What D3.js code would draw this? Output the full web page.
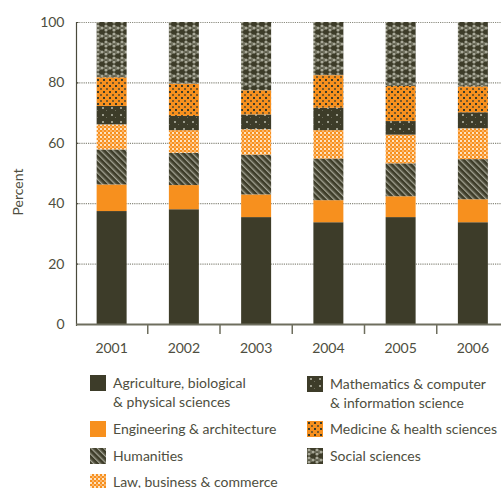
<!DOCTYPE html>
<html><head><meta charset="utf-8">
<script src="https://cdn.jsdelivr.net/npm/d3@7"></script>
<style>
html,body{margin:0;padding:0;background:#fff;}
svg text{font-family:Lato,"Open Sans",sans-serif;fill:#4e4e40;}
</style></head>
<body><svg id="c" width="501" height="488"></svg>
<script>
const years = ["2001","2002","2003","2004","2005","2006"];
const categories = [
  "Agriculture, biological & physical sciences",
  "Engineering & architecture",
  "Humanities",
  "Law, business & commerce",
  "Mathematics & computer & information science",
  "Medicine & health sciences",
  "Social sciences"
];
const agriculture = [37.4, 38.0, 35.4, 33.7, 35.4, 33.7];
const engineering = [8.8, 8.0, 7.5, 7.3, 6.9, 7.6];
const humanities  = [11.6, 10.7, 13.2, 13.8, 10.9, 13.3];
const law         = [8.3, 7.5, 8.4, 9.4, 9.5, 10.2];
const mathematics = [6.1, 4.7, 4.9, 7.4, 4.5, 5.3];
const medicine    = [9.5, 10.7, 8.0, 10.8, 11.6, 8.6];
const social      = [18.3, 20.4, 22.6, 17.6, 21.2, 21.3];
const yTicks = [0, 20, 40, 60, 80, 100];

const series = [agriculture, engineering, humanities, law, mathematics, medicine, social];
const keys = ["agri","eng","hum","law","math","med","soc"];
const rows = years.map((y,i)=>{const r={year:y}; keys.forEach((k,j)=>r[k]=series[j][i]); return r;});

const svg = d3.select("#c");
const DARK="#3d3c29", ORANGE="#f7901e";

// patterns
const defs = svg.append("defs");
function pat(id,w,h){return defs.append("pattern").attr("id",id).attr("patternUnits","userSpaceOnUse").attr("width",w).attr("height",h);}
// humanities: diagonal stripes (\\)
let p = pat("p-hum",4.5,4.5).attr("patternTransform","rotate(-45)");
p.append("rect").attr("width",4.5).attr("height",4.5).attr("fill",DARK);
p.append("rect").attr("x",0).attr("y",0).attr("width",1.3).attr("height",4.5).attr("fill","#a4a494");
p.append("rect").attr("x",1.3).attr("y",0).attr("width",0.8).attr("height",4.5).attr("fill","#6e6d5c");
// law: checker light on orange
p = pat("p-law",4,4);
p.append("rect").attr("width",4).attr("height",4).attr("fill",ORANGE);
p.append("rect").attr("x",0).attr("y",0).attr("width",2).attr("height",2).attr("fill","#fde3c2");
p.append("rect").attr("x",2).attr("y",2).attr("width",2).attr("height",2).attr("fill","#fbb56a");
// math: dark with light specks
p = pat("p-math",9,7);
p.append("rect").attr("width",9).attr("height",7).attr("fill",DARK);
p.append("rect").attr("x",3).attr("y",2).attr("width",2).attr("height",2).attr("fill","#9c9c8c");
p.append("rect").attr("x",7).attr("y",5).attr("width",1).attr("height",1).attr("fill","#6e6d5c");
// medicine: orange with dark squares
p = pat("p-med",6,6);
p.append("rect").attr("width",6).attr("height",6).attr("fill",ORANGE);
p.append("rect").attr("x",1).attr("y",1).attr("width",2).attr("height",2).attr("fill",DARK);
p.append("rect").attr("x",4).attr("y",4).attr("width",2).attr("height",2).attr("fill","#7a5a2a");
// social: dark with light blobs in zigzag
p = pat("p-soc",8,8);
p.append("rect").attr("width",8).attr("height",8).attr("fill",DARK);
[[2,2],[6,4],[2,6]].forEach(([cx,cy])=>p.append("circle").attr("cx",cx).attr("cy",cy).attr("r",1.6).attr("fill","#a9a999"));
[[4,3],[4,5],[0,4],[8,4]].forEach(([cx,cy])=>p.append("circle").attr("cx",cx).attr("cy",cy).attr("r",1.0).attr("fill","#7b7b6a"));

const fills = {agri:DARK, eng:ORANGE, hum:"url(#p-hum)", law:"url(#p-law)", math:"url(#p-math)", med:"url(#p-med)", soc:"url(#p-soc)"};

const x = d3.scaleBand().domain(years).range([75.5,509]).paddingInner(0.585).paddingOuter(0.2925);
const y = d3.scaleLinear().domain([0,100]).range([324,22]);

// gridlines
svg.append("g").selectAll("line").data(yTicks.filter(t=>t>0)).join("line")
  .attr("x1",77).attr("x2",501).attr("y1",d=>y(d)+0.5).attr("y2",d=>y(d)+0.5)
  .attr("stroke","#8c8c80").attr("stroke-width",1.2).attr("stroke-dasharray","1.2,1");

// bars
const stack = d3.stack().keys(keys)(rows);
svg.append("g").selectAll("g").data(stack).join("g").attr("fill",d=>fills[d.key])
  .selectAll("rect").data(d=>d).join("rect")
  .attr("x",d=>x(d.data.year)).attr("width",x.bandwidth())
  .attr("y",d=>y(d[1])).attr("height",d=>y(d[0])-y(d[1]));

// y axis
const ya = svg.append("g").attr("transform","translate(76.5,0)")
  .call(d3.axisLeft(y).tickValues(yTicks).tickSize(-2).tickPadding(12));
ya.select(".domain").attr("stroke","#4a4a3c").attr("stroke-width",1.2).attr("d","M0,"+y(100)+"V"+(y(0)+2));
ya.selectAll(".tick line").attr("stroke","#4a4a3c");
ya.selectAll(".tick text").attr("font-size",14).attr("font-family","Lato,sans-serif").attr("fill","#4e4e40");

// x axis
const xa = svg.append("g").attr("transform","translate(0,324)");
xa.append("line").attr("x1",76).attr("x2",501).attr("y1",0.5).attr("y2",0.5).attr("stroke","#6e6e5e").attr("stroke-width",2);
xa.selectAll(".tk").data(years.slice(1)).join("line").attr("class","tk")
  .attr("x1",d=>x(d)-x.step()*x.paddingInner()/2).attr("x2",d=>x(d)-x.step()*x.paddingInner()/2)
  .attr("y1",0).attr("y2",10).attr("stroke","#6e6e5e").attr("stroke-width",1.5);
xa.selectAll(".lb").data(years).join("text").attr("class","lb")
  .attr("x",d=>x(d)+x.bandwidth()/2).attr("y",29).attr("text-anchor","middle").attr("font-size",14)
  .text(d=>d);

// y label
svg.append("text").attr("transform","translate(23,192) rotate(-90)").attr("text-anchor","middle").attr("font-size",14).text("Percent");

// legend
const legendItems = [
  {k:"agri", lines:["Agriculture, biological","& physical sciences"], x:90, y:375},
  {k:"eng", lines:["Engineering & architecture"], x:90, y:421},
  {k:"hum", lines:["Humanities"], x:90, y:448},
  {k:"law", lines:["Law, business & commerce"], x:90, y:474},
  {k:"math", lines:["Mathematics & computer","& information science"], x:307, y:376},
  {k:"med", lines:["Medicine & health sciences"], x:307, y:421},
  {k:"soc", lines:["Social sciences"], x:307, y:448}
];
const lg = svg.append("g").selectAll("g").data(legendItems).join("g").attr("transform",d=>`translate(${d.x},${d.y})`);
lg.append("rect").attr("width",16).attr("height",16).attr("fill",d=>fills[d.k]);
lg.each(function(d){
  const t = d3.select(this).append("text").attr("x",23).attr("y",12.5).attr("font-size",14);
  d.lines.forEach((l,i)=>t.append("tspan").attr("x",23).attr("dy",i?19.5:0).text(l));
});
</script></body></html>
